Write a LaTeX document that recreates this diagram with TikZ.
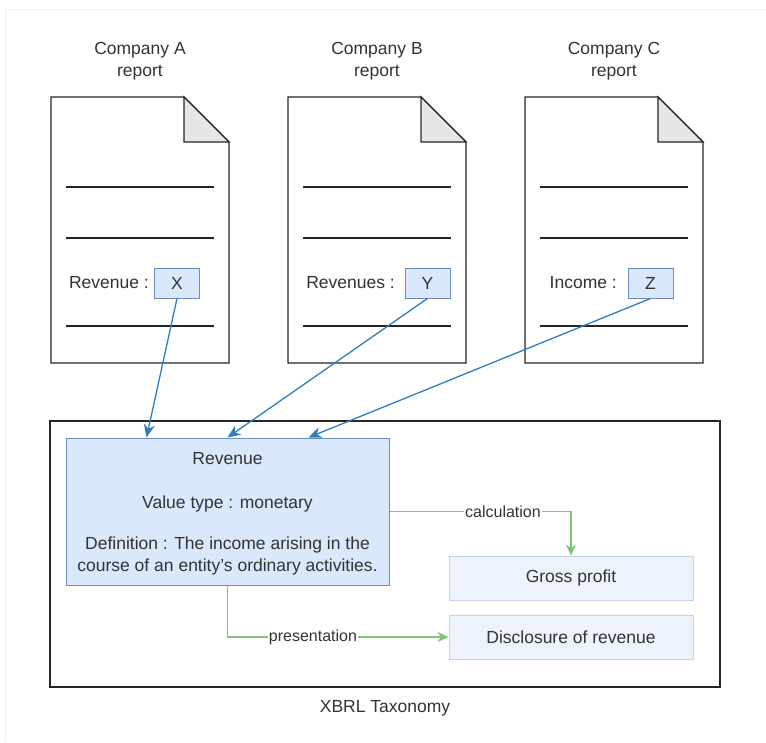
\documentclass[tikz,border=0pt]{standalone}
\usepackage{fontspec}
\setmainfont{Liberation Sans}
\usetikzlibrary{arrows.meta,calc}
\definecolor{txt}{HTML}{333333}
\definecolor{bluefill}{HTML}{DAE8FC}
\definecolor{bluestroke}{HTML}{6C8EBF}
\definecolor{lightfill}{HTML}{EDF3FC}
\definecolor{lightstroke}{HTML}{C6D4E8}
\definecolor{arrowblue}{HTML}{2F7FC0}
\definecolor{arrowgreen}{HTML}{82C475}
\definecolor{foldgray}{HTML}{E6E6E6}
\definecolor{framegray}{HTML}{EFEFEF}
\definecolor{linedark}{HTML}{262626}
\begin{document}
\begin{tikzpicture}[x=1pt,y=-1pt,
  every node/.style={font=\fontsize{17.5}{22}\selectfont, text=txt, inner sep=0pt},
  docshape/.style={draw=linedark, line width=1.4pt, fill=white, line join=miter},
  foldshape/.style={draw=linedark, line width=1.4pt, fill=foldgray, line join=miter},
  docline/.style={draw=linedark, line width=1.2pt},
  valbox/.style={draw=bluestroke, fill=bluefill, line width=1pt, minimum width=45pt, minimum height=30pt},
  revbox/.style={draw=bluestroke, fill=bluefill, line width=1pt, minimum width=323pt, minimum height=147pt},
  lightbox/.style={draw=lightstroke, fill=lightfill, line width=1pt, minimum width=244pt, minimum height=44pt},
  outerbox/.style={draw=linedark, line width=1.4pt, minimum width=670pt, minimum height=266pt},
  barrow/.style={draw=arrowblue, line width=1.3pt, -{Stealth[length=13pt,width=11pt,inset=4pt]}},
  garrow/.style={draw=arrowgreen, line width=1.1pt, -{Stealth[length=11pt,width=10pt,inset=3.5pt]}},
  edgelabel/.style={font=\fontsize{16}{19}\selectfont, fill=white, inner sep=1pt}
]
\useasboundingbox (0,0) rectangle (766,742);
\draw[framegray, line width=1pt] (5,742) -- (5,9.5) -- (766,9.5);

% documents
\foreach \L/\name in {51/A,288/B,525/C} {
  \draw[docshape] (\L,97) -- ++(133,0) -- ++(45,45) -- ++(0,221) -- ++(-178,0) -- cycle;
  \draw[foldshape] (\L+133,97) -- (\L+133,142) -- (\L+178,142) -- cycle;
  \foreach \yy in {187,238,326} \draw[docline] (\L+15,\yy) -- (\L+163,\yy);
  \node[align=center] (title\name) at (\L+89,61) {Company \name\\report};
}

% value boxes
\node[valbox] (X) at (177,283) {X};
\node[anchor=east] (labA) at (149,283) {Revenue :};
\node[valbox] (Y) at (427.5,283) {Y};
\node[anchor=east] (labB) at (395,283) {Revenues :};
\node[valbox] (Z) at (650.5,283) {Z};
\node[anchor=east] (labC) at (617,283) {Income :};

% taxonomy
\node[outerbox] (tax) at (385,554) {};
\node (taxlabel) at (385,708) {XBRL Taxonomy};
\node[revbox] (rev) at (227.5,511.5) {};
\node[align=center] (revtext) at (227.5,513.5) {Revenue\\[22pt]Value type : monetary\\[19pt]Definition : The income arising in the\\course of an entity's ordinary activities.};
\node[lightbox] (gross) at (571,578) {Gross profit};
\node[lightbox] (disc) at (571,637) {Disclosure of revenue};

% blue arrows
\draw[barrow] (X.south) -- ($(rev.north west)!0.25!(rev.north east)$);
\draw[barrow] (Y.south) -- ($(rev.north west)!0.5!(rev.north east)$);
\draw[barrow] (Z.south) -- ($(rev.north west)!0.75!(rev.north east)$);

% green connectors
\draw[garrow] (rev.east) -| (gross.north);
\node[edgelabel] (calc) at (503,511.5) {calculation};
\draw[garrow] (rev.south) |- (disc.west);
\node[edgelabel] (pres) at (313,637) {presentation};
\end{tikzpicture}
\end{document}
